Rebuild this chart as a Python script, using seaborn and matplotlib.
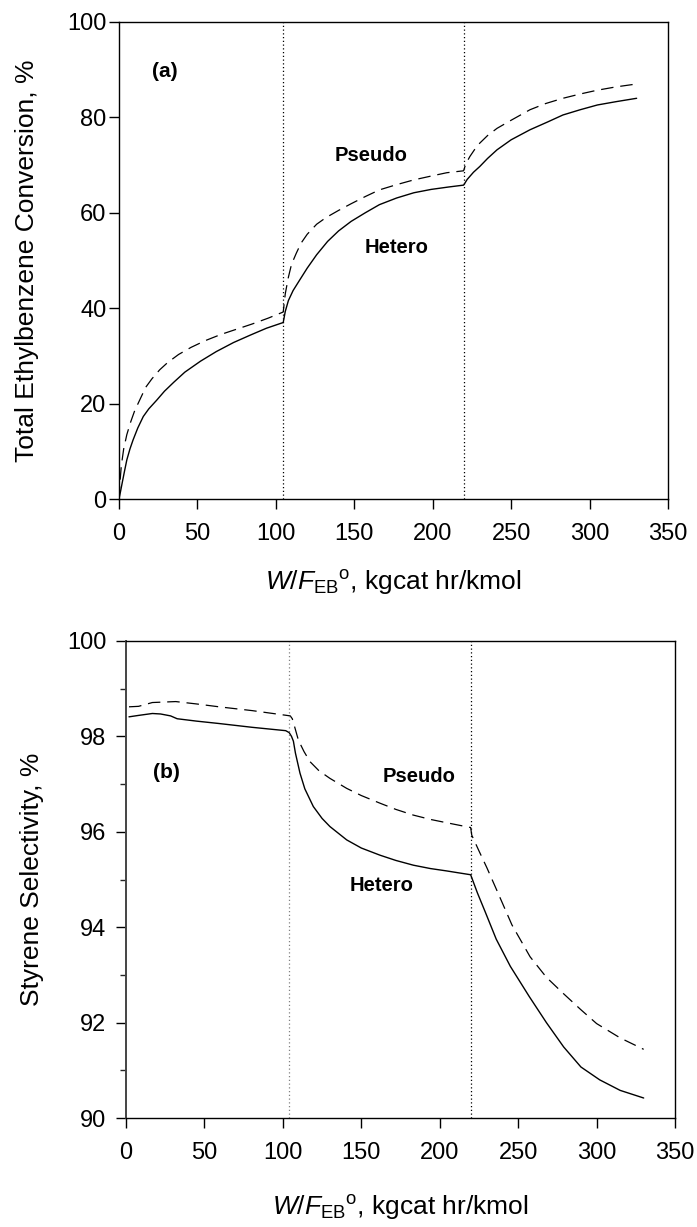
import numpy as np
import pandas as pd
import matplotlib
matplotlib.use("Agg")
import matplotlib.pyplot as plt
from matplotlib.ticker import MultipleLocator
import seaborn as sns

# ---- (a) total ethylbenzene conversion, % ----
x_conv_hetero = [0, 1, 2, 3.5, 5, 7, 9, 12, 15.5, 19, 24, 29, 35, 42, 52, 62, 73, 84, 94, 104.7,
                 106, 108, 111, 115, 120, 126, 133, 140, 148, 157, 166, 177, 188, 199, 210, 219.7,
                 222, 226, 230, 235, 241, 250, 262, 273, 283, 294, 305, 317, 330]
y_conv_hetero = [0, 1.6, 3.3, 5.8, 8.2, 10.5, 12.4, 14.9, 17.3, 18.9, 20.7, 22.6, 24.5, 26.6, 28.9, 30.9, 32.8, 34.4, 35.8, 37.0,
                 39.3, 41.6, 43.7, 45.8, 48.4, 51.2, 54.0, 56.2, 58.2, 60.0, 61.7, 63.1, 64.2, 64.9, 65.4, 65.8,
                 67.0, 68.5, 69.7, 71.4, 73.2, 75.3, 77.4, 79.0, 80.5, 81.6, 82.6, 83.3, 84.0]

x_conv_pseudo = [0, 0.5, 1.5, 3, 5, 7.5, 10, 13, 17, 21, 26, 31, 38, 46, 55, 65, 75, 85, 95, 104.7,
                 106, 108, 110, 113, 116, 120, 126, 132, 140, 148, 157, 166, 177, 188, 199, 209, 219.7,
                 221, 223.7, 227, 230, 235, 241, 250, 262, 272, 283, 294, 305, 317, 330]
y_conv_pseudo = [0, 3, 7, 10.5, 13.5, 16.2, 18.5, 20.6, 23.4, 25.2, 27.1, 28.6, 30.3, 31.8, 33.2, 34.5, 35.6, 36.7, 37.9, 39.2,
                 43.0, 46.5, 49.2, 51.5, 53.6, 55.5, 57.6, 59.0, 60.5, 61.9, 63.4, 64.8, 65.9, 66.9, 67.7, 68.4, 68.8,
                 70.2, 71.8, 73.4, 74.6, 76.2, 77.7, 79.4, 81.6, 82.9, 84.0, 84.9, 85.7, 86.4, 87.0]

# ---- (b) styrene selectivity, % ----
x_sel_hetero = [1.9, 8, 16.8, 22, 28.4, 32.6, 45, 59.3, 80.5, 101.8, 104, 105.5, 106.7, 108, 110.9,
                114, 119.4, 125, 130, 140.7, 150, 161.9, 172, 183.2, 194, 204.4, 212, 219.7,
                224, 229, 236, 245, 257, 268, 279, 290, 302, 315, 330]
y_sel_hetero = [98.41, 98.44, 98.48, 98.47, 98.43, 98.37, 98.32, 98.27, 98.19, 98.12, 98.08, 98.00, 97.90, 97.65, 97.23,
                96.90, 96.53, 96.28, 96.11, 95.83, 95.66, 95.51, 95.40, 95.30, 95.23, 95.18, 95.14, 95.10,
                94.72, 94.32, 93.75, 93.18, 92.55, 92.00, 91.49, 91.07, 90.80, 90.58, 90.42]

x_sel_pseudo = [1.9, 8, 16.8, 31.7, 45, 59.3, 80.5, 104.7, 106, 107.5, 109.9, 113.5, 117.3, 123, 130,
                140.7, 150, 161.9, 172, 183.2, 194, 204.4, 212, 219.7,
                220.4, 225, 230, 236.3, 246, 257.6, 268, 278.8, 290, 300, 315, 330]
y_sel_pseudo = [98.62, 98.63, 98.71, 98.73, 98.68, 98.62, 98.54, 98.43, 98.37, 98.20, 97.92, 97.68, 97.47, 97.28, 97.12,
                96.91, 96.76, 96.60, 96.47, 96.35, 96.26, 96.19, 96.14, 96.09,
                95.93, 95.60, 95.25, 94.78, 94.05, 93.38, 92.95, 92.61, 92.27, 91.98, 91.68, 91.44]

bed_ends_a = [104.7, 219.7]
bed_ends_b = [104, 220]

sns.set_style("ticks")
plt.rcParams["font.family"] = ["Liberation Sans", "DejaVu Sans"]
plt.rcParams["mathtext.fontset"] = "custom"
plt.rcParams["mathtext.rm"] = "Liberation Sans"
plt.rcParams["mathtext.it"] = "Liberation Sans:italic"
plt.rcParams["text.color"] = "black"
plt.rcParams["axes.labelcolor"] = "black"

fig = plt.figure(figsize=(6.97, 12.27), dpi=100)
ax1 = fig.add_axes([0.1707, 0.5933, 0.7877, 0.3888])
ax2 = fig.add_axes([0.1808, 0.0888, 0.7877, 0.3888])

dash = (10, 5.5)
xlabel = r"$\it{W/F}_{\rm EB}$$^{\rm o}$, kgcat hr/kmol"

# panel (a)
df_a_h = pd.DataFrame({"x": x_conv_hetero, "y": y_conv_hetero})
df_a_p = pd.DataFrame({"x": x_conv_pseudo, "y": y_conv_pseudo})
sns.lineplot(data=df_a_h, x="x", y="y", ax=ax1, color="black", lw=1.0, sort=False)
sns.lineplot(data=df_a_p, x="x", y="y", ax=ax1, color="black", lw=0.9, sort=False,
             linestyle=(0, dash))
for xv in bed_ends_a:
    ax1.axvline(xv, color="black", lw=0.9, linestyle=(0, (1, 2)))
ax1.set_xlim(0, 350)
ax1.set_ylim(0, 100)
ax1.xaxis.set_major_locator(MultipleLocator(50))
ax1.yaxis.set_major_locator(MultipleLocator(20))
ax1.set_xlabel(xlabel, fontsize=19)
ax1.set_ylabel("Total Ethylbenzene Conversion, %", fontsize=19)
ax1.xaxis.set_label_coords(0.5, -0.174)
ax1.yaxis.set_label_coords(-0.1676, 0.5)
ax1.text(20.8, 89.7, "(a)", fontsize=15, fontweight="bold", va="center")
ax1.text(137.7, 72.1, "Pseudo", fontsize=14.5, fontweight="bold", va="center")
ax1.text(156.8, 52.8, "Hetero", fontsize=14.5, fontweight="bold", va="center")

# panel (b)
df_b_h = pd.DataFrame({"x": x_sel_hetero, "y": y_sel_hetero})
df_b_p = pd.DataFrame({"x": x_sel_pseudo, "y": y_sel_pseudo})
sns.lineplot(data=df_b_h, x="x", y="y", ax=ax2, color="black", lw=1.0, sort=False)
sns.lineplot(data=df_b_p, x="x", y="y", ax=ax2, color="black", lw=0.9, sort=False,
             linestyle=(0, dash))
ax2.axvline(bed_ends_b[0], color="gray", lw=0.9, linestyle=(0, (1, 2)))
ax2.axvline(bed_ends_b[1], color="black", lw=0.9, linestyle=(0, (1, 2)))
ax2.set_xlim(0, 350)
ax2.set_ylim(90, 100)
ax2.xaxis.set_major_locator(MultipleLocator(50))
ax2.yaxis.set_major_locator(MultipleLocator(2))
ax2.yaxis.set_minor_locator(MultipleLocator(1))
ax2.set_xlabel(xlabel, fontsize=19)
ax2.set_ylabel("Styrene Selectivity, %", fontsize=19)
ax2.xaxis.set_label_coords(0.5, -0.187)
ax2.yaxis.set_label_coords(-0.171, 0.5)
ax2.text(17.2, 97.25, "(b)", fontsize=15, fontweight="bold", va="center")
ax2.text(163.8, 97.16, "Pseudo", fontsize=14.5, fontweight="bold", va="center")
ax2.text(142.8, 94.87, "Hetero", fontsize=14.5, fontweight="bold", va="center")

for ax in (ax1, ax2):
    ax.xaxis.label.set_va("center")
    ax.yaxis.label.set_va("center")
    for s in ax.spines.values():
        s.set_linewidth(1.0)
        s.set_color("black")
    ax.tick_params(which="major", direction="out", length=7, width=1.0,
                   labelsize=17, colors="black")
    ax.tick_params(which="minor", direction="out", length=4, width=1.0)
    ax.tick_params(axis="x", pad=10)
ax1.tick_params(axis="y", pad=2)
ax2.tick_params(axis="y", pad=7)
ax2.spines["left"].set_linewidth(1.4)
ax2.spines["left"].set_color("#444444")

fig.savefig("out.png", dpi=100)
